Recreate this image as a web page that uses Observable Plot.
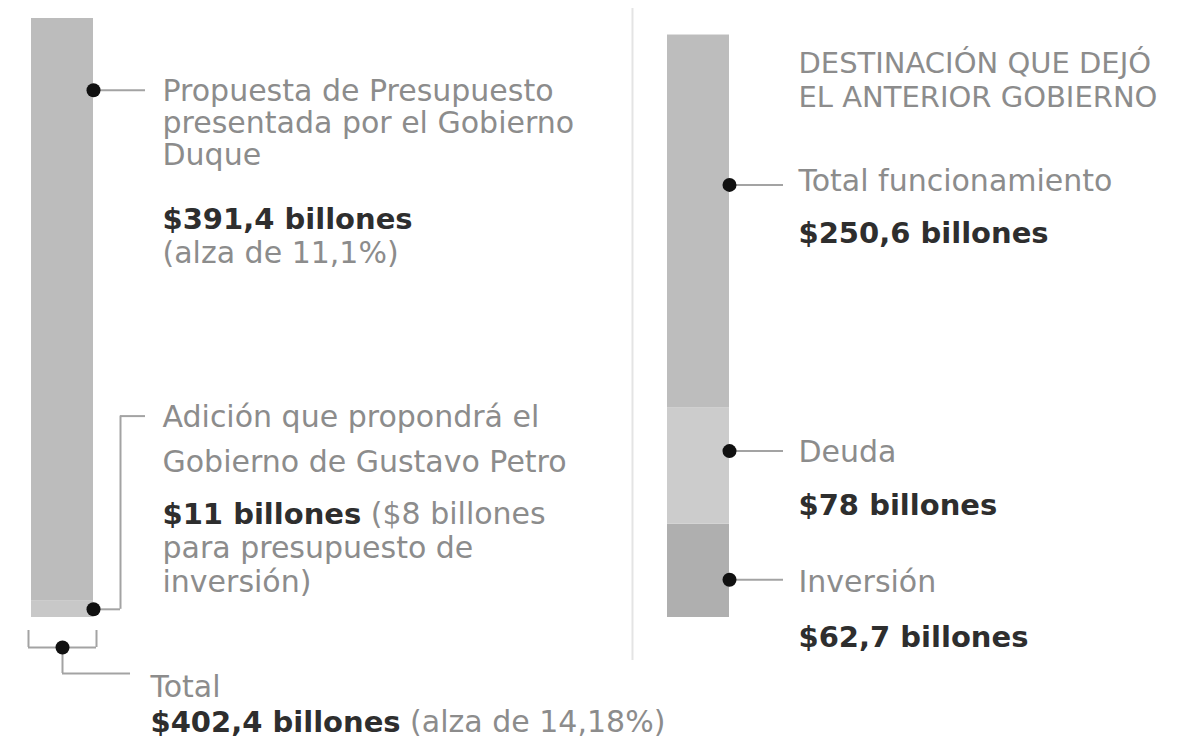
<!DOCTYPE html>
<html>
<head>
<meta charset="utf-8">
<script src="https://cdn.jsdelivr.net/npm/d3@7"></script>
<script src="https://cdn.jsdelivr.net/npm/@observablehq/plot@0.6"></script>
<style>
  html, body { margin: 0; padding: 0; background: #fff; }
  #chart svg { display: block; }
</style>
</head>
<body>
<div id="chart"></div>
<script>
// ---------------- data ----------------
const bars = ["Presupuesto 2023", "Destinación anterior"];
const segments = ["Adición Petro", "Propuesta Duque", "Inversión", "Deuda", "Funcionamiento"];
const segmentBar = [bars[0], bars[0], bars[1], bars[1], bars[1]];
const segmentValues = [11, 391.4, 62.7, 78, 250.6];
const segmentTitles = [
  "Adición que propondrá el\nGobierno de Gustavo Petro",
  "Propuesta de Presupuesto\npresentada por el Gobierno\nDuque",
  "Inversión",
  "Deuda",
  "Total funcionamiento"
];
const segmentAmounts = ["$11 billones", "$391,4 billones", "$62,7 billones", "$78 billones", "$250,6 billones"];
const segmentNotesInline = ["($8 billones", "", "", "", ""];
const segmentNotesBelow = ["para presupuesto de\ninversión)", "(alza de 11,1%)", "", "", ""];
const totalTitle = "Total";
const totalAmount = "$402,4 billones";
const totalNote = "(alza de 14,18%)";
const totalValue = 402.4;
const headingText = "DESTINACIÓN QUE DEJÓ\nEL ANTERIOR GOBIERNO";
// where each callout dot / label sits on the value axis (billones)
const dotAt = [5.5, 354.2, 25.4, 111.8, 290.6];
const labelAt = [135.3, 354.2, 25.4, 111.8, 290.6];

// ---------------- style / layout ----------------
const colors = ["#c8c8c8", "#bcbcbc", "#afafaf", "#cccccc", "#bdbdbd"];
const FONT = "DejaVu Sans";
const FS = 30, FSB = 29, FSH = 29;
const GRAY = "#8c8c8c", DARK = "#2e2e2e", LINE = "#a3a3a3", DOT = "#111";
const TEXT_DX = 100;
const layout = [
  {titleBase: 11, titleLH: 45, amountBase: 108, noteBase: 142, noteLH: 34},
  {titleBase: 11, titleLH: 32, amountBase: 139, noteBase: 173, noteLH: 32},
  {titleBase: 12, titleLH: 32, amountBase: 67},
  {titleBase: 11, titleLH: 32, amountBase: 64},
  {titleBase: 6, titleLH: 32, amountBase: 58}
];
const topDy = (base, lh) => base - 0.71 * lh;

const ctx = document.createElement("canvas").getContext("2d");
function textWidth(t, size, weight) {
  ctx.font = `${weight} ${size}px "${FONT}"`;
  return ctx.measureText(t).width;
}

const table = segments.map((s, i) => ({
  segment: s, bar: segmentBar[i], value: segmentValues[i],
  dot: dotAt[i], label: labelAt[i],
  title: segmentTitles[i], amount: segmentAmounts[i],
  inline: segmentNotesInline[i], below: segmentNotesBelow[i]
}));
const totalRow = {bar: bars[0], base: 0, title: totalTitle, amount: totalAmount, note: totalNote};
const headRow = {bar: bars[1], top: d3.sum(table.filter(d => d.bar === bars[1]), d => d.value), text: headingText};

const lineStyle = {stroke: LINE, strokeWidth: 2};
const marks = [];

// separator between the two panels
marks.push(Plot.ruleX([headRow], {x: "bar", dx: -66, insetTop: 8, insetBottom: 84, stroke: "#e4e4e4", strokeWidth: 2}));

// stacked bars
marks.push(Plot.barY(table, {x: "bar", y: "value", fill: "segment"}));

// leader lines
table.forEach((t, i) => {
  if (i === 0) {
    marks.push(Plot.tickY([t], {x: "bar", y: "dot", dx: 62, insetRight: 35, ...lineStyle}));
    marks.push(Plot.ruleX([t], {x: "bar", y1: "dot", y2: "label", dx: 58, ...lineStyle}));
    marks.push(Plot.tickY([t], {x: "bar", y: "label", dx: 62, insetLeft: 27, insetRight: 10, ...lineStyle}));
  } else {
    marks.push(Plot.tickY([t], {x: "bar", y: "dot", dx: 62, insetRight: i === 1 ? 10 : 8, ...lineStyle}));
  }
});

// total bracket & connector
marks.push(Plot.tickY([totalRow], {x: "bar", y: "base", dy: 30, insetLeft: -3, insetRight: -3, ...lineStyle}));
marks.push(Plot.ruleX([totalRow], {x: "bar", y1: "base", y2: "base", dx: -34, insetTop: 30, insetBottom: -13, ...lineStyle}));
marks.push(Plot.ruleX([totalRow], {x: "bar", y1: "base", y2: "base", dx: 34, insetTop: 30, insetBottom: -13, ...lineStyle}));
marks.push(Plot.ruleX([totalRow], {x: "bar", y1: "base", y2: "base", insetTop: 30, insetBottom: -56, ...lineStyle}));
marks.push(Plot.tickY([totalRow], {x: "bar", y: "base", dy: 56, insetLeft: 31, insetRight: -37, ...lineStyle}));

// dots
marks.push(Plot.dot(table, {x: "bar", y: "dot", dx: 31, r: 7, fill: DOT}));
marks.push(Plot.dot([totalRow], {x: "bar", y: "base", dy: 30, r: 7, fill: DOT}));

// texts
const txt = {x: "bar", textAnchor: "start", lineAnchor: "top", fontFamily: FONT};
table.forEach((t, i) => {
  const L = layout[i];
  marks.push(Plot.text([t], {...txt, y: "label", text: "title", dx: TEXT_DX,
    dy: topDy(L.titleBase, L.titleLH), lineHeight: L.titleLH / FS, fontSize: FS, fill: GRAY}));
  marks.push(Plot.text([t], {...txt, y: "label", text: "amount", dx: TEXT_DX,
    dy: topDy(L.amountBase, FSB), fontSize: FSB, fontWeight: "bold", fill: DARK}));
  if (t.inline) {
    const w = textWidth(t.amount, FSB, "bold") + textWidth(" ", FS, "normal");
    marks.push(Plot.text([t], {...txt, y: "label", text: "inline", dx: TEXT_DX + w,
      dy: topDy(L.amountBase, FS), fontSize: FS, fill: GRAY}));
  }
  if (t.below) {
    marks.push(Plot.text([t], {...txt, y: "label", text: "below", dx: TEXT_DX,
      dy: topDy(L.noteBase, L.noteLH), lineHeight: L.noteLH / FS, fontSize: FS, fill: GRAY}));
  }
});

// total texts
const TOTAL_DX = 88;
marks.push(Plot.text([totalRow], {...txt, y: "base", text: "title", dx: TOTAL_DX, dy: topDy(79, FS), fontSize: FS, fill: GRAY}));
marks.push(Plot.text([totalRow], {...txt, y: "base", text: "amount", dx: TOTAL_DX, dy: topDy(114, FSB), fontSize: FSB, fontWeight: "bold", fill: DARK}));
{
  const w = textWidth(totalAmount, FSB, "bold") + textWidth(" ", FS, "normal");
  marks.push(Plot.text([totalRow], {...txt, y: "base", text: "note", dx: TOTAL_DX + w, dy: topDy(114, FS), fontSize: FS, fill: GRAY}));
}

// heading
marks.push(Plot.text([headRow], {...txt, y: "top", text: "text", dx: TEXT_DX, dy: topDy(38, 34), lineHeight: 34 / FSH, fontSize: FSH, fill: GRAY}));

const chart = Plot.plot({
  width: 1178,
  height: 744,
  margin: 0,
  x: {type: "band", domain: bars, range: [31, 729], paddingInner: 0.9025, paddingOuter: 0, round: false, axis: null},
  y: {domain: [0, totalValue], range: [617, 18], axis: null},
  color: {domain: segments, range: colors},
  style: {fontFamily: FONT, background: "#fff", overflow: "visible"},
  marks
});
document.getElementById("chart").appendChild(chart);
</script>
</body>
</html>
